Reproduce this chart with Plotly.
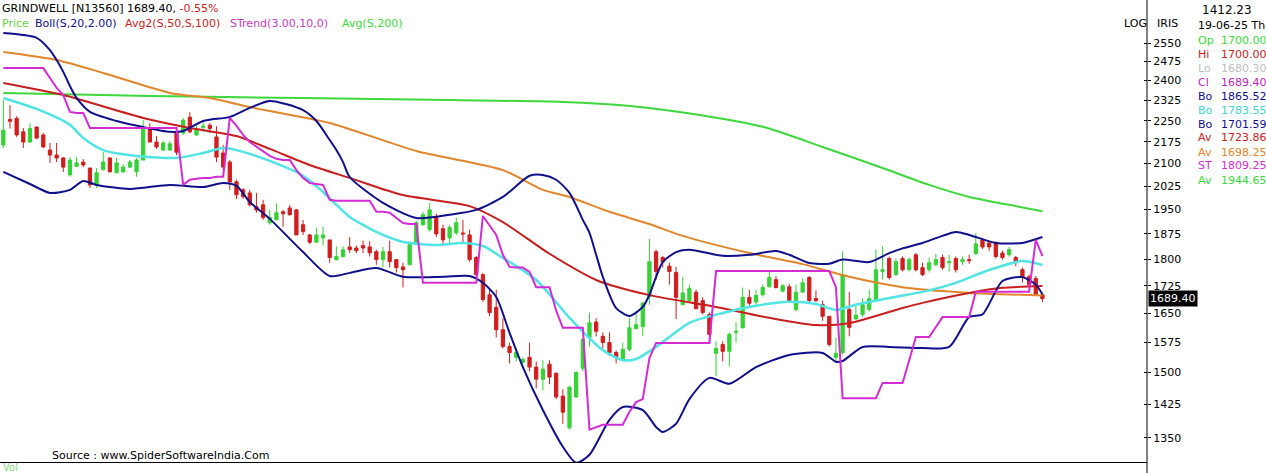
import math
import plotly.graph_objects as go

# ---------------- DATA ----------------
opens = [2164, 2255, 2259, 2210, 2174, 2227, 2199, 2146, 2129, 2119,
         2062, 2091, 2105, 2085, 2029, 2079, 2119, 2069, 2072, 2088,
         2072, 2112, 2222, 2174, 2146, 2146, 2210, 2206, 2263, 2199,
         2226, 2234, 2192, 2136, 2105, 2039, 2013, 2003, 1959, 1965,
         1909, 1918, 1943, 1955, 1949, 1903, 1872, 1850, 1863, 1857,
         1799, 1808, 1836, 1833, 1840, 1836, 1822, 1799, 1822, 1799,
         1778, 1784, 1850, 1903, 1888, 1925, 1891, 1863, 1878, 1878,
         1872, 1805, 1756, 1700, 1666, 1607, 1564, 1537, 1525, 1537,
         1513, 1484, 1520, 1498, 1444, 1372, 1442, 1510, 1587, 1627,
         1590, 1574, 1549, 1532, 1557, 1610, 1615, 1695, 1822, 1805,
         1780, 1762, 1673, 1684, 1707, 1684, 1647, 1547, 1569, 1552,
         1600, 1612, 1693, 1680, 1700, 1722, 1742, 1710, 1722, 1660,
         1707, 1748, 1690, 1673, 1642, 1537, 1549, 1660, 1635, 1647,
         1660, 1687, 1765, 1802, 1756, 1802, 1770, 1813, 1776, 1770,
         1784, 1805, 1790, 1802, 1793, 1799, 1816, 1857, 1848, 1848,
         1818, 1813, 1805, 1770, 1750, 1745, 1700]
highs = [2326, 2307, 2266, 2224, 2241, 2230, 2206, 2171, 2171, 2122,
         2122, 2122, 2115, 2085, 2085, 2139, 2122, 2119, 2098, 2112,
         2119, 2252, 2241, 2195, 2178, 2178, 2227, 2260, 2281, 2230,
         2252, 2241, 2230, 2164, 2112, 2046, 2019, 2013, 2003, 1981,
         1949, 1970, 1949, 1965, 1952, 1918, 1875, 1894, 1897, 1857,
         1838, 1838, 1865, 1840, 1855, 1853, 1828, 1836, 1855, 1799,
         1790, 1853, 1915, 1943, 1970, 1937, 1903, 1903, 1925, 1918,
         1888, 1810, 1760, 1714, 1714, 1637, 1574, 1554, 1537, 1574,
         1527, 1530, 1530, 1500, 1460, 1468, 1503, 1587, 1652, 1637,
         1600, 1600, 1554, 1574, 1637, 1655, 1680, 1860, 1828, 1810,
         1790, 1778, 1750, 1728, 1714, 1693, 1652, 1577, 1577, 1600,
         1627, 1720, 1714, 1714, 1728, 1765, 1752, 1730, 1730, 1728,
         1745, 1752, 1712, 1684, 1642, 1587, 1823, 1707, 1670, 1690,
         1714, 1828, 1838, 1808, 1802, 1808, 1805, 1818, 1790, 1805,
         1816, 1813, 1813, 1808, 1808, 1813, 1878, 1863, 1853, 1853,
         1825, 1836, 1810, 1776, 1756, 1752, 1700]
lows = [2153, 2222, 2192, 2153, 2171, 2185, 2153, 2102, 2105, 2072,
        2056, 2088, 2088, 2019, 2019, 2079, 2072, 2069, 2069, 2085,
        2056, 2112, 2174, 2150, 2143, 2143, 2129, 2199, 2206, 2195,
        2210, 2206, 2105, 2079, 2013, 1984, 1984, 1960, 1940, 1918,
        1903, 1918, 1897, 1931, 1872, 1872, 1845, 1850, 1840, 1790,
        1796, 1805, 1818, 1818, 1818, 1808, 1784, 1776, 1776, 1762,
        1720, 1784, 1843, 1900, 1882, 1866, 1845, 1845, 1872, 1845,
        1793, 1742, 1680, 1642, 1587, 1559, 1522, 1527, 1520, 1503,
        1462, 1457, 1472, 1437, 1381, 1368, 1440, 1503, 1564, 1590,
        1559, 1540, 1522, 1527, 1552, 1607, 1590, 1673, 1742, 1776,
        1728, 1635, 1673, 1680, 1662, 1647, 1575, 1491, 1527, 1515,
        1574, 1610, 1670, 1670, 1695, 1720, 1717, 1706, 1680, 1655,
        1707, 1680, 1680, 1630, 1564, 1527, 1544, 1590, 1633, 1640,
        1655, 1684, 1742, 1742, 1752, 1765, 1765, 1765, 1752, 1762,
        1780, 1770, 1765, 1762, 1784, 1787, 1813, 1830, 1825, 1802,
        1799, 1808, 1780, 1734, 1720, 1698, 1680.3]
closes = [2216, 2248, 2199, 2174, 2222, 2188, 2157, 2129, 2119, 2088,
          2112, 2102, 2095, 2029, 2069, 2105, 2072, 2102, 2088, 2105,
          2112, 2222, 2174, 2157, 2171, 2168, 2139, 2252, 2210, 2216,
          2230, 2222, 2122, 2088, 2039, 1997, 1991, 1965, 1949, 1925,
          1925, 1940, 1937, 1934, 1872, 1882, 1850, 1872, 1872, 1805,
          1808, 1828, 1828, 1825, 1833, 1819, 1799, 1822, 1793, 1776,
          1770, 1843, 1909, 1934, 1949, 1875, 1857, 1894, 1909, 1875,
          1799, 1756, 1687, 1652, 1607, 1564, 1549, 1549, 1532, 1513,
          1484, 1508, 1489, 1442, 1407, 1465, 1500, 1582, 1625, 1603,
          1574, 1549, 1537, 1557, 1612, 1620, 1677, 1793, 1765, 1793,
          1765, 1693, 1705, 1717, 1662, 1652, 1595, 1559, 1552, 1595,
          1603, 1693, 1677, 1698, 1720, 1748, 1720, 1725, 1684, 1707,
          1733, 1684, 1684, 1642, 1569, 1547, 1756, 1613, 1645, 1673,
          1690, 1770, 1770, 1748, 1793, 1770, 1799, 1770, 1756, 1790,
          1799, 1776, 1793, 1770, 1799, 1796, 1845, 1836, 1836, 1808,
          1805, 1828, 1790, 1748, 1728, 1702, 1689.4]
bars = list(range(len(closes)))

# Bollinger(20,2) upper / middle / lower : (bar index, value)
boll_up_at = [0, 5, 7, 8, 9, 10, 11, 13, 17, 21, 25, 27, 30, 34, 37, 40, 45, 47, 49, 50,
              51, 52, 57, 62, 67, 71, 75, 79, 81, 83, 85, 87, 88, 89, 90, 92, 94, 96, 97, 98,
              99, 101, 103, 108, 112, 116, 118, 121, 124, 126, 130, 133, 135, 138, 143, 145,
              149, 153, 156]
boll_up = [2591, 2571, 2521, 2481, 2434, 2379, 2334, 2282, 2249, 2227, 2210, 2213, 2249, 2264,
           2297, 2323, 2289, 2249, 2181, 2146, 2105, 2055, 1971, 1924, 1934, 1949, 1990, 2059,
           2062, 2046, 2003, 1918, 1878, 1813, 1750, 1664, 1643, 1667, 1700, 1750, 1792, 1821,
           1828, 1810, 1813, 1824, 1813, 1789, 1787, 1799, 1792, 1818, 1832, 1848, 1881, 1872,
           1848, 1848, 1865.52]
boll_mid_at = [0, 5, 10, 12, 15, 20, 26, 30, 33, 35, 40, 45, 48, 50, 52, 56, 60, 65, 69, 72,
               75, 80, 85, 90, 93, 95, 98, 103, 108, 113, 118, 122, 125, 128, 133, 138, 143,
               148, 153, 156]
boll_mid = [2334, 2293, 2235, 2188, 2146, 2126, 2119, 2136, 2153, 2146, 2109, 2059, 2006, 1965,
            1927, 1881, 1851, 1842, 1848, 1839, 1804, 1741, 1638, 1555, 1530, 1533, 1563, 1625,
            1651, 1670, 1681, 1675, 1659, 1673, 1691, 1708, 1733, 1769, 1795, 1783.55]
boll_lo_at = [0, 4, 7, 10, 12, 14, 19, 25, 30, 33, 35, 37, 40, 45, 49, 52, 56, 60, 66, 70,
              72, 74, 76, 78, 81, 84, 86, 88, 91, 93, 96, 98, 99, 101, 103, 106, 109, 113, 118,
              123, 125, 126, 129, 133, 138, 142, 145, 147, 150, 153, 155, 156]
boll_lo = [2072, 2032, 2003, 2013, 2042, 2029, 2016, 2029, 2022, 2035, 2026, 1974, 1921, 1821,
           1752, 1761, 1775, 1750, 1750, 1752, 1733, 1694, 1599, 1513, 1412, 1331, 1297, 1314,
           1390, 1419, 1412, 1374, 1363, 1381, 1437, 1487, 1473, 1513, 1543, 1548, 1526, 1528,
           1563, 1563, 1560, 1563, 1640, 1647, 1738, 1749, 1728, 1701.59]

# Avg2: SMA 50 and SMA 100
sma50_at = [0, 9, 21, 28, 35, 40, 46, 52, 60, 70, 75, 82, 89, 97, 107, 115, 122, 127, 135,
            138, 145, 150, 156]
sma50 = [2391, 2345, 2260, 2224, 2195, 2150, 2095, 2052, 1996, 1961, 1911, 1816, 1741, 1699,
         1667, 1638, 1619, 1624, 1664, 1678, 1705, 1719, 1723.86]
sma100_at = [0, 8, 15, 25, 31, 37, 49, 62, 75, 81, 85, 91, 97, 102, 112, 120, 127, 135, 141,
             145, 156]
sma100 = [2513, 2481, 2430, 2353, 2334, 2300, 2242, 2143, 2078, 2013, 1990, 1943, 1905, 1869,
          1818, 1786, 1750, 1721, 1710, 1705, 1698.25]

# Avg(S,200)
sma200_at = [0, 22, 45, 67, 84, 94, 105, 114, 123, 132, 139, 145, 151, 156]
sma200 = [2353, 2341, 2334, 2326, 2319, 2304, 2269, 2228, 2157, 2085, 2029, 1990, 1965, 1944.65]

# SuperTrend(3,10), one value per bar
supertrend = ([2449] * 7 + [2410, 2372, 2345, 2282, 2278, 2278, 2224] + [2224] * 13 +
              [2029, 2046, 2049, 2052, 2052, 2056, 2056] +
              [2260, 2231, 2199, 2174, 2157, 2140, 2126, 2116, 2112, 2112, 2078, 2052, 2035,
               2032, 2029] +
              [1981] + [1978] * 6 + [1943, 1943, 1940, 1924, 1908, 1905, 1905] + [1733] * 9 +
              [1930, 1902, 1872, 1813, 1778, 1776, 1776, 1764, 1721, 1721, 1721, 1657] +
              [1612] * 4 + [1368, 1374] + [1379] * 4 + [1408, 1430, 1437, 1535, 1573] +
              [1573] * 8 + [1766] + [1766] * 17 + [1721] + [1439] * 6 + [1475] * 4 + [1530] +
              [1588] * 3 + [1614] + [1640] * 5 + [1708] * 9 + [1857, 1809.25])

y_ticks = [1350, 1425, 1500, 1575, 1650, 1725, 1800, 1875, 1950, 2025, 2100, 2175, 2250,
           2325, 2400, 2475, 2550]
y_bottom, y_top = 1298.6, 2625.0   # visible price span of the panel

info_labels = ["Op", "Hi", "Lo", "Cl", "Bo", "Bo", "Bo", "Av", "Av", "ST", "Av"]
info_values = ["1700.00", "1700.00", "1680.30", "1689.40", "1865.52", "1783.55", "1701.59",
               "1723.86", "1698.25", "1809.25", "1944.65"]

# ---------------- STYLE ----------------
GREEN_C = "#36d236"
RED_C = "#d01e1e"
NAVY = "#10108c"
CYAN = "#50e4e4"
RED_L = "#c81e1e"
ORANGE = "#e2862c"
MAGENTA = "#d42cd4"
GREEN_L = "#3cd83c"
info_colors = [GREEN_L, RED_L, "#c0c0c0", "#c21fc2", NAVY, "#40d4d4", NAVY, RED_L, ORANGE,
               MAGENTA, GREEN_L]
FONT = "DejaVu Sans"

W, H = 1266, 473
PL, PR, PT, PB = 0, 1147, 25, 462  # plot area in pixels


def px(x):
    return (x - PL) / (PR - PL)


def py(y):
    return (PB - y) / (PB - PT)


fig = go.Figure()

fig.add_trace(go.Candlestick(
    x=bars, open=opens, high=highs, low=lows, close=closes,
    increasing=dict(line=dict(color=GREEN_C, width=1), fillcolor=GREEN_C),
    decreasing=dict(line=dict(color=RED_C, width=1), fillcolor=RED_C),
    whiskerwidth=0, hoverinfo="skip", showlegend=False))


def add_line(xs, ys, color, width, shape="spline"):
    fig.add_trace(go.Scatter(x=xs, y=ys, mode="lines",
                             line=dict(color=color, width=width, shape=shape,
                                       smoothing=0.7 if shape == "spline" else None),
                             hoverinfo="skip", showlegend=False))


add_line(sma200_at, sma200, GREEN_L, 2)
add_line(sma100_at, sma100, ORANGE, 2)
add_line(sma50_at, sma50, RED_L, 2)
add_line(boll_mid_at, boll_mid, CYAN, 2.5)
add_line(boll_up_at, boll_up, NAVY, 2)
add_line(boll_lo_at, boll_lo, NAVY, 2)
add_line(bars, supertrend, MAGENTA, 2, shape="linear")

# invisible trace for the inner tick axis
fig.add_trace(go.Scatter(x=[bars[0]], y=[y_ticks[5]], yaxis="y2", mode="markers",
                         marker=dict(opacity=0), hoverinfo="skip", showlegend=False))

y_lo = math.log10(y_bottom)
y_hi = math.log10(y_top)

fig.update_layout(
    width=W, height=H, autosize=False,
    margin=dict(l=PL, r=W - PR, t=PT, b=H - PB, pad=0, autoexpand=False),
    paper_bgcolor="white", plot_bgcolor="white",
    font=dict(family=FONT, size=11, color="black"),
    showlegend=False,
    xaxis=dict(range=[-0.5, 171.7], showticklabels=False, showgrid=False, zeroline=False,
               showline=True, linecolor="black", linewidth=1, ticks="",
               rangeslider=dict(visible=False), fixedrange=True),
    yaxis=dict(type="log", range=[y_lo, y_hi], side="right", tickvals=y_ticks,
               ticktext=[str(v) for v in y_ticks], ticks="outside", ticklen=3,
               tickcolor="black", showgrid=False, zeroline=False, showline=False,
               tickfont=dict(family=FONT, size=11, color="black")),
    yaxis2=dict(type="log", range=[y_lo, y_hi], side="right", overlaying="y",
                tickvals=y_ticks, ticks="inside", ticklen=3, tickcolor="black",
                showticklabels=False, showgrid=False, zeroline=False, showline=False),
)

# full-height right axis line
fig.add_shape(type="line", xref="paper", yref="paper", x0=1, x1=1, y0=py(H + 2), y1=py(-2),
              line=dict(color="black", width=1))

ann = []


def text(x, y, s, color="black", size=11, anchor="left"):
    ann.append(dict(x=px(x), y=py(y), xref="paper", yref="paper", text=s, showarrow=False,
                    xanchor=anchor, yanchor="middle",
                    font=dict(family=FONT, size=size, color=color)))


text(0, 9, "GRINDWELL [N13560] 1689.40, <span style='color:#d02020'>-0.55%</span>", size=11)
text(0, 23, "Price", "#6ccf4a")
text(33, 23, "Boll(S,20,2.00)", NAVY)
text(123, 23, "Avg2(S,50,S,100)", RED_L)
text(228, 23, "STrend(3.00,10,0)", "#c43cc4")
text(340, 23, "Avg(S,200)", GREEN_L)

text(1122, 23, "LOG")
text(1155, 23, "IRIS")
text(1200, 10, "1412.23", size=12)
text(1196, 25, "19-06-25 Th")
for k, (lab, val, col) in enumerate(zip(info_labels, info_values, info_colors)):
    yy = 40 + 14 * k
    text(1196, yy, lab, col)
    text(1219, yy, val, col)

text(50, 455, "Source : www.SpiderSoftwareIndia.Com")
text(1, 467, "Vol", "#86dc86", size=10)

# last price box
ann.append(dict(x=1, y=math.log10(closes[-1]), xref="paper", yref="y",
                text=f"{closes[-1]:.2f}", showarrow=False, xanchor="left", yanchor="middle",
                xshift=1, bgcolor="black", borderpad=1,
                font=dict(family=FONT, size=11, color="white")))

fig.update_layout(annotations=ann)
fig.write_html("out.html",
               config={"displayModeBar": False, "staticPlot": True},
               post_script="document.body.style.margin='0px';"
                           "document.body.style.overflow='hidden';")
